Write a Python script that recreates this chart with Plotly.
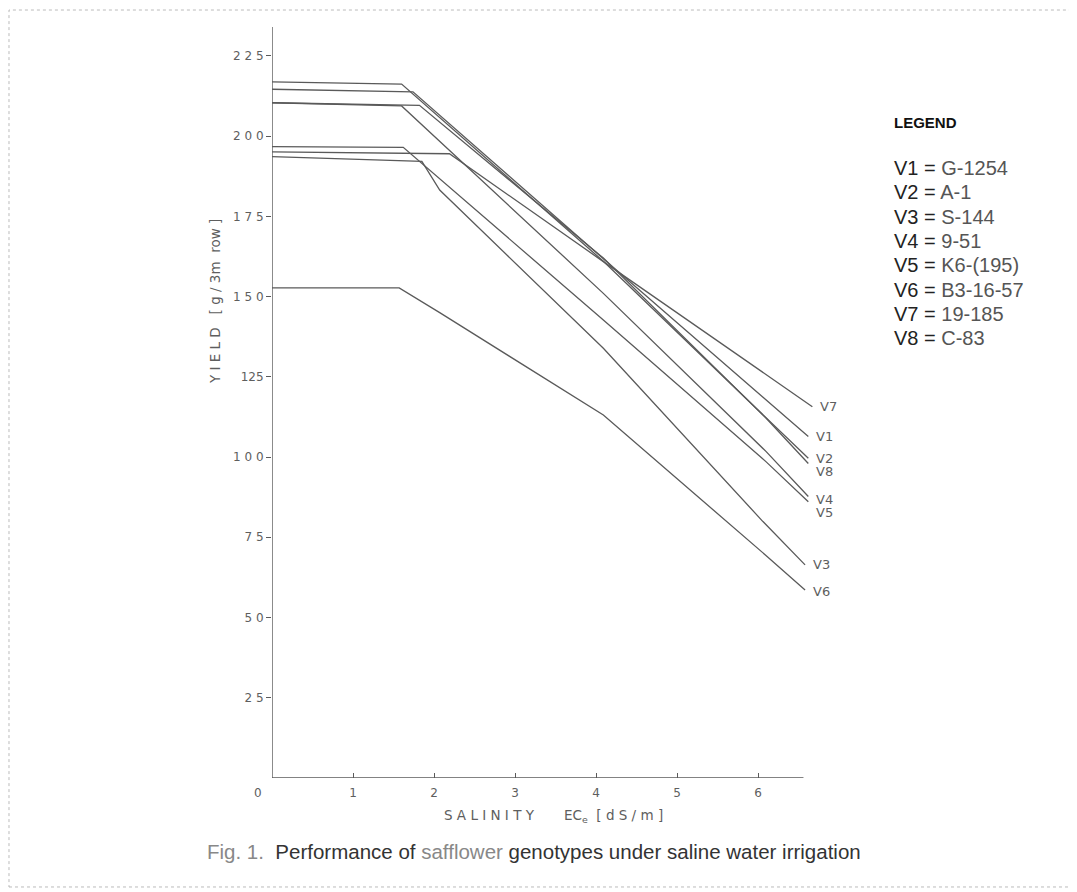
import plotly.graph_objects as go

# ---- data ----
series_names = ["V1", "V2", "V3", "V4", "V5", "V6", "V7", "V8"]

v1_x = [0, 1.74, 4.09, 6.10, 6.62]
v1_y = [214.6, 213.8, 161.8, 117.8, 106.4]
v2_x = [0, 1.60, 4.09, 6.10, 6.62]
v2_y = [216.9, 216.2, 161.0, 112.1, 99.6]
v3_x = [0, 1.85, 2.07, 4.09, 6.06, 6.58]
v3_y = [193.6, 192.1, 183.2, 133.9, 79.9, 66.4]
v4_x = [0, 1.60, 4.09, 6.10, 6.62]
v4_y = [210.4, 209.4, 151.0, 101.7, 87.7]
v5_x = [0, 1.62, 4.09, 6.10, 6.62]
v5_y = [196.7, 196.5, 142.7, 98.5, 86.1]
v6_x = [0, 1.57, 2.07, 4.09, 6.09, 6.58]
v6_y = [152.7, 152.7, 145.0, 113.1, 69.5, 58.6]
v7_x = [0, 2.19, 4.09, 6.67]
v7_y = [195.1, 194.5, 160.9, 115.7]
v8_x = [0, 1.82, 4.09, 6.10, 6.62]
v8_y = [210.4, 209.6, 162.0, 112.1, 98.0]

y_tick_vals = [25, 50, 75, 100, 125, 150, 175, 200, 225]
y_tick_text = ["2 5", "5 0", "7 5", "1 0 0", "125", "1 5 0", "1 7 5", "2 0 0", "2 2 5"]
x_tick_vals = [1, 2, 3, 4, 5, 6]
x_tick_text = ["1", "2", "3", "4", "5", "6"]

legend_keys = ["V1", "V2", "V3", "V4", "V5", "V6", "V7", "V8"]
legend_values = ["G-1254", "A-1", "S-144", "9-51", "K6-(195)", "B3-16-57", "19-185", "C-83"]

# end-label vertical nudges (pixels) so neighbouring labels don't collide
label_shift = {"V7": 0, "V1": 0, "V2": 0, "V8": -8, "V4": -3, "V5": -11, "V3": 0, "V6": -2}

xs = {"V1": v1_x, "V2": v2_x, "V3": v3_x, "V4": v4_x, "V5": v5_x, "V6": v6_x, "V7": v7_x, "V8": v8_x}
ys = {"V1": v1_y, "V2": v2_y, "V3": v3_y, "V4": v4_y, "V5": v5_y, "V6": v6_y, "V7": v7_y, "V8": v8_y}

LINE = "#5a5a5a"
TXT = "#5e5e5e"

fig = go.Figure()
for name in series_names:
    fig.add_trace(go.Scatter(x=xs[name], y=ys[name], mode="lines", name=name,
                             line=dict(color=LINE, width=1.3), showlegend=False))

annotations = []
for name in series_names:
    annotations.append(dict(x=xs[name][-1], y=ys[name][-1], xref="x", yref="y",
                            text=name, showarrow=False, xanchor="left", yanchor="middle",
                            xshift=6, yshift=label_shift[name],
                            font=dict(family="DejaVu Sans", size=13, color=TXT)))

# x "0" label
annotations.append(dict(x=0, y=0, xref="x", yref="y", text="0", showarrow=False,
                        xshift=-14, yshift=-15, font=dict(family="DejaVu Sans", size=12, color=TXT)))
# axis titles
annotations.append(dict(x=3.48, y=-0.05, xref="x", yref="paper", xanchor="center", yanchor="middle",
                        text="S A L I N I T Y &nbsp;&nbsp;&nbsp;&nbsp;&nbsp; EC<sub>e</sub> &nbsp;[ d S / m ]",
                        showarrow=False, font=dict(family="DejaVu Sans", size=13.5, color=TXT)))
annotations.append(dict(x=-0.102, y=0.635, xref="paper", yref="paper", textangle=-90,
                        xanchor="center", yanchor="middle",
                        text="Y I E L D &nbsp;&nbsp;[ g / 3m &nbsp;row ]",
                        showarrow=False, font=dict(family="DejaVu Sans", size=13.5, color=TXT)))
# caption
annotations.append(dict(x=0.469, y=-0.0985, xref="paper", yref="paper",
                        text="<span style='color:#888'>Fig. 1.</span>&nbsp; Performance of <span style='color:#888'>safflower</span> genotypes under saline water irrigation",
                        showarrow=False, xanchor="center", yanchor="middle",
                        font=dict(family="Liberation Sans", size=20.5, color="#333")))
# legend box text
annotations.append(dict(x=1.109, y=(777 - 121) / 751, xref="paper", yref="paper", text="<b>LEGEND</b>",
                        showarrow=False, xanchor="left", yanchor="middle",
                        font=dict(family="Liberation Sans", size=15, color="#111")))
for i, (k, v) in enumerate(zip(legend_keys, legend_values)):
    annotations.append(dict(x=1.109, y=(777 - (167 + 24.3 * i)) / 751, xref="paper", yref="paper",
                            text=f"<span style='color:#222'>{k} =</span> {v}",
                            showarrow=False, xanchor="left", yanchor="middle",
                            font=dict(family="Liberation Sans", size=20, color="#555")))

shapes = [
    # axis lines
    dict(type="line", xref="x", yref="y", x0=0, x1=6.56, y0=0, y1=0, line=dict(color=LINE, width=1.4)),
    dict(type="line", xref="x", yref="y", x0=0, x1=0, y0=0, y1=234, line=dict(color=LINE, width=1.4)),
    # page border
    dict(type="rect", xref="paper", yref="paper", x0=-0.4705, x1=1.4293, y0=-0.1451, y1=1.0226,
         line=dict(color="#bbbbbb", width=1, dash="dot")),
]

fig.update_layout(
    width=1077, height=892,
    margin=dict(l=264, r=254, t=19, b=122),
    paper_bgcolor="white", plot_bgcolor="white",
    xaxis=dict(range=[0, 6.9], showgrid=False, zeroline=False, showline=False,
               tickmode="array", tickvals=x_tick_vals, ticktext=x_tick_text,
               ticks="inside", ticklen=5, tickcolor=LINE, ticklabelstandoff=6,
               tickfont=dict(family="DejaVu Sans", size=12, color=TXT)),
    yaxis=dict(range=[0, 234], showgrid=False, zeroline=False, showline=False,
               tickmode="array", tickvals=y_tick_vals, ticktext=y_tick_text,
               ticks="outside", ticklen=5, tickcolor=LINE,
               tickfont=dict(family="DejaVu Sans", size=12, color=TXT)),
    annotations=annotations, shapes=shapes,
)

fig.write_html("out.html")
